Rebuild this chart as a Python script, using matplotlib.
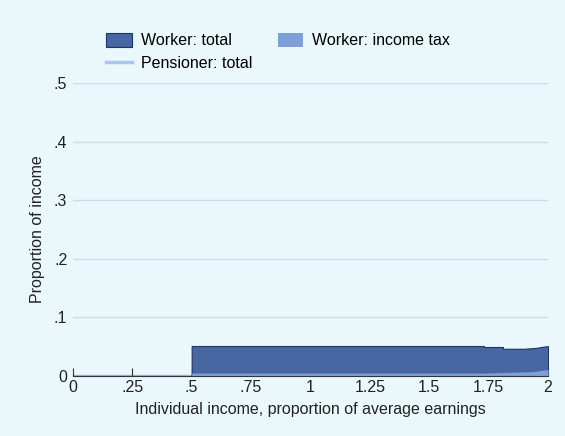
import matplotlib.pyplot as plt
import numpy as np

# income as a proportion of average earnings
income = [0, 0.25, 0.4999, 0.5, 0.75, 1, 1.25, 1.5, 1.73, 1.7301, 1.81, 1.8101, 1.9, 1.95, 1.98, 2]
worker_total = [0, 0, 0, 0.0512, 0.0512, 0.0512, 0.0512, 0.0512, 0.0512, 0.0495, 0.0495, 0.0465, 0.0465, 0.048, 0.050, 0.051]
worker_tax = [0, 0, 0, 0.005, 0.005, 0.005, 0.005, 0.005, 0.005, 0.005, 0.006, 0.006, 0.007, 0.008, 0.010, 0.011]
pensioner_total = [0, 0, 0, 0, 0, 0, 0, 0, 0, 0, 0, 0, 0, 0, 0, 0]

xticks = [0, 0.25, 0.5, 0.75, 1, 1.25, 1.5, 1.75, 2]
xticklabels = ['0', '.25', '.5', '.75', '1', '1.25', '1.5', '1.75', '2']
yticks = [0, 0.1, 0.2, 0.3, 0.4, 0.5]
yticklabels = ['0', '.1', '.2', '.3', '.4', '.5']

bg = '#eaf7fb'
plt.rcParams['font.family'] = ['Liberation Sans', 'DejaVu Sans']

fig = plt.figure(figsize=(5.65, 4.36), dpi=100, facecolor=bg)
ax = fig.add_axes([0.129, 0.1376, 0.841, 0.672])
ax.set_facecolor(bg)

h_total = ax.fill_between(income, 0, worker_total, color='#4766a2', edgecolor='#1c3562',
                          linewidth=0.8, label='Worker: total', zorder=2)
h_tax = ax.fill_between(income, 0, worker_tax, color='#7f9fd8', linewidth=0,
                        label='Worker: income tax', zorder=3)
h_pen, = ax.plot(income, pensioner_total, color='#a9c6ee', linewidth=2.5,
                 label='Pensioner: total', zorder=1)

ax.set_xlim(0, 2)
ax.set_ylim(0, 0.5)
ax.set_xticks(xticks)
ax.set_xticklabels(xticklabels)
ax.set_yticks(yticks)
ax.set_yticklabels(yticklabels)

for y in yticks[1:]:
    ax.axhline(y, color='#c9deec', linewidth=1, zorder=0)

for s in ['top', 'right', 'left']:
    ax.spines[s].set_visible(False)
ax.spines['bottom'].set_color('#333333')
ax.spines['bottom'].set_zorder(5)
ax.tick_params(axis='x', direction='in', length=6, color='#333333', labelsize=11.5, pad=3)
ax.tick_params(axis='y', length=0, labelsize=11.5, pad=4)
for t in ax.get_xticklabels() + ax.get_yticklabels():
    t.set_color('#222222')

ax.set_xlabel('Individual income, proportion of average earnings', fontsize=11.5,
              color='#222222', labelpad=5)
ax.set_ylabel('Proportion of income', fontsize=11.5, color='#222222', labelpad=6)

# column-major fill, so order the handles to read row by row
fig.legend([h_total, h_pen, h_tax],
           ['Worker: total', 'Pensioner: total', 'Worker: income tax'],
           loc='upper left', bbox_to_anchor=(0.163, 0.958), ncol=2, frameon=False,
           fontsize=11.5, handlelength=1.6, handleheight=1.0, columnspacing=1.6,
           labelspacing=0.45, handletextpad=0.55)

plt.savefig('out.png', dpi=100, facecolor=bg)
plt.close()
